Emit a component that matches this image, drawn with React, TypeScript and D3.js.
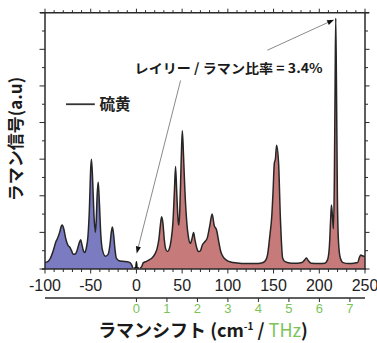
import React from "react";
import * as d3 from "d3";

const antiStokesShift = [-100, -97, -94, -91, -88, -86.5, -84, -82, -81, -79.5, -77.5, -75, -73, -71, -69, -67, -65, -63, -61, -59.5, -58, -56.5, -55, -53, -51.5, -50, -49.2, -48, -46.5, -45, -44, -43, -41.8, -40.5, -39, -37, -34, -31, -29, -27.5, -26.3, -25, -23.5, -22, -19, -15, -10, -7, -5, -4];
const antiStokesIntensity = [0.35, 0.4, 0.6, 1.0, 1.5, 1.65, 2.0, 2.35, 2.4, 2.2, 1.7, 1.3, 1.2, 1.0, 0.8, 0.82, 1.0, 1.35, 1.6, 1.3, 1.0, 0.9, 1.1, 1.8, 3.2, 5.5, 6.0, 5.0, 3.0, 2.0, 2.6, 4.0, 4.75, 3.6, 1.9, 1.0, 0.7, 0.8, 1.3, 2.0, 2.3, 1.9, 1.1, 0.6, 0.45, 0.42, 0.4, 0.35, 0.2, 0.05];

const rayleighShift = [-3, -0.8, 0, 0.8, 3];
const rayleighIntensity = [0.05, 0.05, 0.4, 0.05, 0.05];

const stokesShift = [4, 6, 7.5, 9, 11, 14, 17, 20, 22.5, 24.5, 26, 27.5, 29, 30.5, 32, 34, 36, 38, 40, 41.5, 42.8, 44, 45.5, 46.5, 47.5, 49, 50.2, 51.5, 53, 55, 57, 59, 61, 62.5, 64, 66, 68, 70, 72, 75, 77.5, 80, 82.8, 85, 87.8, 90, 92, 95, 98, 103, 110, 120, 130, 137, 141, 143.5, 146.1, 148, 149.5, 150.8, 152, 153.3, 155.5, 157.4, 159.9, 162, 165, 170, 176, 181, 184, 186, 188, 191, 200, 206, 209, 211, 212.5, 213.3, 214.5, 215.5, 216.5, 217.3, 218, 218.8, 219.8, 221, 223, 226, 232, 238, 242, 244, 245.4, 247, 248.5, 250];
const stokesIntensity = [0.05, 0.15, 0.35, 0.38, 0.42, 0.5, 0.6, 0.8, 1.1, 1.6, 2.3, 2.85, 2.5, 1.6, 1.1, 0.95, 1.1, 1.6, 2.6, 4.2, 5.6, 4.3, 2.7, 2.4, 3.3, 6.0, 7.55, 6.2, 4.3, 2.6, 1.7, 1.4, 1.7, 2.0, 1.6, 1.15, 0.95, 1.0, 1.3, 1.5, 1.7, 2.3, 3.0, 2.4, 2.1, 1.5, 1.0, 0.65, 0.5, 0.38, 0.33, 0.3, 0.3, 0.33, 0.45, 0.8, 1.9, 2.85, 4.3, 5.77, 6.0, 6.76, 5.77, 2.85, 0.6, 0.42, 0.35, 0.32, 0.32, 0.35, 0.5, 0.6, 0.45, 0.32, 0.3, 0.32, 0.5, 1.2, 2.8, 3.5, 2.8, 2.2, 5.0, 10, 13.7, 10, 4.0, 1.5, 0.6, 0.35, 0.3, 0.32, 0.35, 0.65, 0.76, 0.72, 0.7, 0.68];

const cmTicks = [-100, -50, 0, 50, 100, 150, 200, 250];
const thzTicks = [0, 1, 2, 3, 4, 5, 6, 7];
const CM_PER_THZ = 33.356;

const legendLabel = "硫黄";
const annotation = "レイリー / ラマン比率 = 3.4%";
const yLabel = "ラマン信号(a.u)";

const W = 377, H = 343;
const left = 45, right = 365, top = 12.7, bottom = 269;
const axisColor = "#2a2a2a";
const green = "#7cc35a";
const blueFill = "#7a7bc0";
const redFill = "#c77a7a";
const numFont = "'Liberation Sans', Arial, sans-serif";
const jpFont = "'Noto Sans CJK JP', 'Noto Sans', sans-serif";

export default function App() {
  const x = d3.scaleLinear().domain([-100, 250]).range([left, right]);
  const y = d3.scaleLinear().domain([0, 14]).range([bottom, top]);

  const asData = antiStokesShift.map((s, i) => [s, antiStokesIntensity[i]] as [number, number]);
  const sData = stokesShift.map((s, i) => [s, stokesIntensity[i]] as [number, number]);
  const rData = rayleighShift.map((s, i) => [s, rayleighIntensity[i]] as [number, number]);

  const area = d3.area<[number, number]>().x(d => x(d[0])).y0(y(0)).y1(d => y(d[1])).curve(d3.curveMonotoneX);
  const line = d3.line<[number, number]>().x(d => x(d[0])).y(d => y(d[1])).curve(d3.curveMonotoneX);

  const minorX = d3.range(-100, 251, 10);
  const yTicks = d3.range(0, 15, 1);
  const thzAxisY = 298;

  const arrow = (x1: number, y1: number, x2: number, y2: number, key: string) => {
    const ang = Math.atan2(y2 - y1, x2 - x1);
    const L = 7, Wd = 2.6;
    const bx = x2 - L * Math.cos(ang), by = y2 - L * Math.sin(ang);
    const px = -Math.sin(ang) * Wd, py = Math.cos(ang) * Wd;
    return (
      <g key={key}>
        <line x1={x1} y1={y1} x2={bx} y2={by} stroke="#8a8a8a" strokeWidth={1} />
        <path d={`M${x2},${y2}L${bx + px},${by + py}L${bx - px},${by - py}Z`} fill="#111" />
      </g>
    );
  };

  return (
    <svg width={W} height={H} style={{ position: "absolute", left: 0, top: 0, background: "#fff" }}>
      {/* spectra */}
      <path d={area(asData) || ""} fill={blueFill} />
      <path d={area(sData) || ""} fill={redFill} />
      <path d={line(asData) || ""} fill="none" stroke="#262626" strokeWidth={1.5} strokeLinejoin="round" />
      <path d={line(sData) || ""} fill="none" stroke="#262626" strokeWidth={1.5} strokeLinejoin="round" />
      <path d={line(rData) || ""} fill="none" stroke="#111" strokeWidth={1.5} />

      {/* frame */}
      <line x1={left} x2={left} y1={top} y2={bottom} stroke={axisColor} strokeWidth={1.5} />
      <line x1={right} x2={right} y1={top} y2={bottom} stroke={axisColor} strokeWidth={1.5} />
      <line x1={left - 5} x2={right + 4} y1={top} y2={top} stroke={axisColor} strokeWidth={1.5} />
      <line x1={left - 3} x2={right + 1} y1={bottom} y2={bottom} stroke={axisColor} strokeWidth={1.5} />

      {/* x ticks top & bottom */}
      {minorX.map(v => {
        const major = v % 50 === 0;
        return (
          <g key={"xt" + v}>
            <line x1={x(v)} x2={x(v)} y1={top} y2={top - (major ? 4 : 2.5)} stroke={axisColor} strokeWidth={1} />
            <line x1={x(v)} x2={x(v)} y1={bottom} y2={bottom + (major ? 4.5 : 3)} stroke={axisColor} strokeWidth={1} />
          </g>
        );
      })}
      {/* y ticks left & right */}
      {yTicks.map(v => {
        const major = v % 2 === 0;
        return (
          <g key={"yt" + v}>
            <line x1={left} x2={left - (major ? 5.5 : 3)} y1={y(v)} y2={y(v)} stroke={axisColor} strokeWidth={1} />
            <line x1={right} x2={right + (major ? 4.5 : 3)} y1={y(v)} y2={y(v)} stroke={axisColor} strokeWidth={1} />
          </g>
        );
      })}

      {/* cm-1 tick labels */}
      {cmTicks.map(v => (
        <text key={"cl" + v} x={x(v)} y={291} textAnchor="middle" fontFamily={numFont} fontSize={16} fill="#222">
          {v}
        </text>
      ))}

      {/* THz axis */}
      <line x1={left} x2={right} y1={thzAxisY} y2={thzAxisY} stroke={axisColor} strokeWidth={1.5} />
      {thzTicks.map(t => (
        <g key={"th" + t}>
          <line x1={x(t * CM_PER_THZ)} x2={x(t * CM_PER_THZ)} y1={thzAxisY} y2={thzAxisY + 4} stroke={axisColor} strokeWidth={1} />
          <text x={x(t * CM_PER_THZ)} y={313} textAnchor="middle" fontFamily={numFont} fontSize={13} fill={green}>
            {t}
          </text>
        </g>
      ))}

      {/* x title */}
      <text x={203} y={337} textAnchor="middle" fontFamily={jpFont} fontWeight="bold" fontSize={18} fill="#1a1a1a">
        ラマンシフト (cm<tspan fontSize={10} dy={-7}>-1</tspan>
        <tspan dy={7}> / </tspan>
        <tspan fill={green} fontWeight="normal">THz</tspan>)
      </text>

      {/* y title */}
      <text transform={`translate(22,${139}) rotate(-90)`} textAnchor="middle" fontFamily={jpFont} fontWeight="bold" fontSize={17} fill="#1a1a1a">
        {yLabel}
      </text>

      {/* legend */}
      <line x1={x(-77)} x2={x(-45.5)} y1={y(9.0)} y2={y(9.0)} stroke="#333" strokeWidth={1.8} />
      <text x={x(-40.5)} y={y(9.0) + 5.5} fontFamily={jpFont} fontWeight="bold" fontSize={15.5} fill="#222">
        {legendLabel}
      </text>

      {/* annotation */}
      <text x={x(-2)} y={y(10.7)} fontFamily={jpFont} fontWeight="bold" fontSize={13} fill="#1a1a1a" textLength={188} lengthAdjust="spacingAndGlyphs">
        {annotation}
      </text>
      {arrow(x(48.3), y(10.3), x(0.3), y(0.85), "a1")}
      {arrow(x(143.2), y(11.95), x(216.2), y(13.62), "a2")}
    </svg>
  );
}
